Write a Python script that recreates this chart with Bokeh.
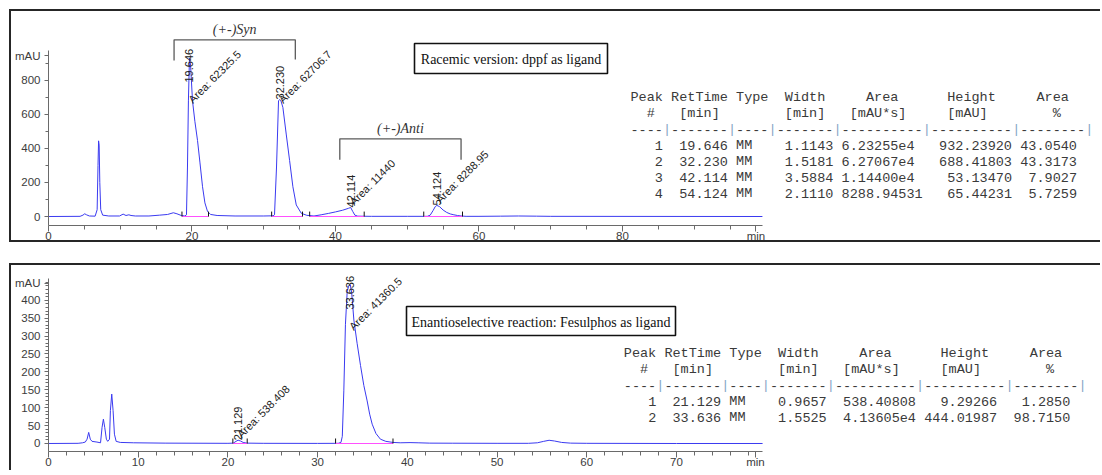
import re
from math import pi

from bokeh.core.properties import value
from bokeh.embed import file_html
from bokeh.layouts import column
from bokeh.models import ColumnDataSource, FixedTicker, Range1d
from bokeh.plotting import figure
from bokeh.resources import INLINE

# ---------------------------------------------------------------------------
# Racemic run: dppf as ligand
# ---------------------------------------------------------------------------
rac_time = [0.0, 4.4, 4.8, 5.05, 5.3, 5.7, 6.5, 6.78, 6.9, 6.98, 7.06, 7.15, 7.28,
            7.55, 8.4, 9.9, 10.4, 10.8, 11.2, 11.5, 12.1, 14.0, 15.5, 16.6, 17.4,
            17.9, 18.5, 19.0, 19.23, 19.37, 19.5, 19.646, 19.8, 20.07, 20.4, 20.77,
            21.1, 21.47, 21.8, 22.17, 22.6, 23.5, 26.0, 30.0, 31.3, 31.5, 31.78,
            32.06, 32.23, 32.4, 32.67, 33.13, 33.6, 34.06, 34.53, 35.23, 36.0, 37.0,
            38.0, 39.0, 40.0, 41.0, 41.8, 42.114, 42.4, 42.7, 43.1, 45.0, 50.0, 52.8,
            53.2, 53.6, 53.9, 54.124, 54.5, 55.0, 55.5, 56.0, 56.5, 57.0, 57.5, 58.2,
            60.0, 63.0, 65.5, 68.0, 70.0, 99.5]
rac_signal = [0, 1, 8, 16, 10, 3, 2, 40, 300, 445, 420, 200, 40,
              8, 3, 3, 14, 6, 10, 6, 3, 3, 8, 12, 22,
              16, 6, 3, 10, 291, 680, 932.2392, 890, 680, 560, 447,
              320, 175, 80, 29, 12, 6, 3, 3, 4, 10, 291,
              680, 688.41803, 680, 641, 485, 330, 175, 68, 19, 7, 3,
              10, 18, 27, 37, 48, 53.1347, 30, 8, 2, 1, 1, 1,
              8, 35, 58, 65.44231, 58, 38, 24, 15, 10, 6, 3, 1,
              1, 2, 3, 2, 1, 0]

rac_peak_no = [1, 2, 3, 4]
rac_rt = [19.646, 32.230, 42.114, 54.124]
rac_type = ["MM", "MM", "MM", "MM"]
rac_width = [1.1143, 1.5181, 3.5884, 2.1110]
rac_area = [62325.5, 62706.7, 11440.0, 8288.94531]
rac_height = [932.23920, 688.41803, 53.13470, 65.44231]
rac_area_pct = [43.0540, 43.3173, 7.9027, 5.7259]
rac_int_start = [18.6, 31.1, 36.4, 52.3]
rac_int_end = [22.3, 35.4, 44.0, 57.7]

# ---------------------------------------------------------------------------
# Enantioselective run: Fesulphos as ligand
# ---------------------------------------------------------------------------
ena_time = [0.0, 3.3, 3.8, 4.1, 4.3, 4.48, 4.66, 4.85, 5.4, 5.8, 5.97, 6.12, 6.27,
            6.45, 6.6, 6.8, 6.9, 7.05, 7.2, 7.35, 7.54, 8.0, 9.5, 13.0, 20.0, 20.6,
            20.9, 21.129, 21.4, 21.7, 22.1, 24.0, 30.0, 32.3, 32.6, 32.75, 32.92,
            33.1, 33.3, 33.5, 33.636, 33.8, 34.04, 34.4, 34.78, 35.15, 35.52, 35.8,
            36.08, 36.5, 37.0, 37.6, 38.4, 39.2, 40.3, 41.2, 42.5, 45.0, 50.0, 53.5,
            54.5, 55.2, 55.8, 56.4, 57.2, 58.2, 60.0, 70.0, 79.6]
ena_signal = [0, 0.5, 2, 4, 12, 31, 12, 6, 4, 2, 45, 68, 45,
              12, 6, 12, 92, 138, 92, 26, 6, 3, 2, 1, 0.5, 1,
              6, 9.29266, 7, 3, 1, 0.5, 0.3, 0.5, 3, 20, 147,
              333, 426, 442, 444.01987, 420, 345, 280, 218, 162, 119, 82,
              54, 28, 12, 6, 3, 2, 2.5, 2, 1, 0.8, 0.5, 0.5,
              2, 6, 9, 7, 3, 1, 0.5, 0, 0]

ena_peak_no = [1, 2]
ena_rt = [21.129, 33.636]
ena_type = ["MM", "MM"]
ena_width = [0.9657, 1.5525]
ena_area = [538.40808, 41360.5]
ena_height = [9.29266, 444.01987]
ena_area_pct = [1.2850, 98.7150]
ena_int_start = [20.55, 32.0]
ena_int_end = [22.15, 38.4]

assert len(rac_time) == len(rac_signal)
assert len(ena_time) == len(ena_signal)

TABLE_HEAD_1 = "Peak RetTime Type  Width     Area      Height     Area"
TABLE_HEAD_2 = "  #   [min]        [min]   [mAU*s]     [mAU]        %"
TABLE_RULE = "----|-------|----|-------|----------|----------|--------|"

SANS = "Liberation Sans"
SERIF = "Liberation Serif"
MONO = "Liberation Mono"
TRACE = "#3a3af0"
INK = "#222222"
FRAME_BORDER = "2px solid #262626"


def area_text(a):
    """Report-style area: exponent notation above 1e4."""
    if a >= 1e4:
        e = len(str(int(a))) - 1
        return f"{a / 10 ** e:.5f}e{e}"
    return f"{a:.5f}"


def style_axes(p, x_major, x_minor, x_over, x_bounds, y_major, y_minor, y_over, y_bounds):
    xa, ya = p.xaxis[0], p.yaxis[0]
    xa.ticker = FixedTicker(ticks=x_major, minor_ticks=x_minor)
    ya.ticker = FixedTicker(ticks=y_major, minor_ticks=y_minor)
    xa.major_label_overrides = x_over
    ya.major_label_overrides = y_over
    xa.bounds = x_bounds
    ya.bounds = y_bounds
    for ax in (xa, ya):
        ax.axis_line_color = "#6a6a6a"
        ax.major_tick_line_color = "#6a6a6a"
        ax.minor_tick_line_color = "#6a6a6a"
        ax.major_tick_in = 0
        ax.minor_tick_in = 0
        ax.major_label_text_font = SANS
        ax.major_label_text_font_size = "11.5px"
        ax.major_label_text_color = "#3c3c3c"
    xa.major_tick_out = 6
    xa.minor_tick_out = 4
    xa.major_label_standoff = -2
    ya.major_tick_out = 4
    ya.minor_tick_out = 3
    ya.major_label_standoff = 4


def draw_trace(p, t, s, int_start, int_end, tick_h):
    p.line(t, s, line_color=TRACE, line_width=1)
    p.segment(x0=int_start, y0=[0] * len(int_start), x1=int_end, y1=[0] * len(int_end),
              line_color="#ff50ff", line_width=1.2)
    bounds = int_start + int_end
    p.segment(x0=bounds, y0=[0] * len(bounds), x1=bounds, y1=[tick_h] * len(bounds),
              line_color="#111111", line_width=1)


def draw_peak_labels(p, rt, height, area, rt_cap, area_cap):
    rt_src = ColumnDataSource(dict(
        x=rt, y=[min(h, rt_cap) for h in height], text=[f"{r:.3f}" for r in rt]))
    p.text(x="x", y="y", text="text", source=rt_src, angle=pi / 2,
           text_align="left", text_baseline="middle",
           text_font=value(SANS), text_font_size=value("11px"), text_color=INK)
    ar_src = ColumnDataSource(dict(
        x=rt, y=[min(h, area_cap) for h in height], text=[f"Area: {a:g}" for a in area]))
    p.text(x="x", y="y", text="text", source=ar_src, angle=pi / 4, x_offset=5,
           text_align="left", text_baseline="bottom",
           text_font=value(SANS), text_font_size=value("11px"), text_color=INK)


def draw_table(p, x0, y0, dy, rows):
    cw = 8.12
    xs, ys, txt, col = [], [], [], []
    lines = [TABLE_HEAD_1, TABLE_HEAD_2, TABLE_RULE] + rows
    for i, line in enumerate(lines):
        pattern = r"-+|\|" if line == TABLE_RULE else r"\S+"
        for m in re.finditer(pattern, line):
            xs.append(x0 + m.start() * cw)
            ys.append(y0 + i * dy)
            txt.append(m.group())
            col.append("#86a6c6" if m.group() == "|" else "#3a3a3a")
    src = ColumnDataSource(dict(x=xs, y=ys, text=txt, color=col))
    p.text(x="x", y="y", text="text", color="color", source=src,
           x_range_name="px", y_range_name="py",
           text_align="left", text_baseline="middle",
           text_font=value(MONO), text_font_size=value("13.5px"))


def draw_caption(p, left, right, top, bottom, caption):
    p.quad(left=[left], right=[right], top=[top], bottom=[bottom],
           x_range_name="px", y_range_name="py",
           fill_color="white", line_color="#111111", line_width=1.6)
    p.text(x=[(left + right) / 2], y=[(top + bottom) / 2 + 1], text=[caption],
           x_range_name="px", y_range_name="py",
           text_align="center", text_baseline="middle",
           text_font=value(SERIF), text_font_size=value("14px"), text_color="#111111")


def draw_bracket(p, x_left, x_right, y_top, y_leg_l, y_leg_r, y_text, label):
    p.line([x_left, x_left, x_right, x_right], [y_leg_l, y_top, y_top, y_leg_r],
           line_color="#5a5a5a", line_width=1.3)
    p.text(x=[(x_left + x_right) / 2], y=[y_text], text=[label],
           text_align="center", text_baseline="middle",
           text_font=value(SERIF), text_font_style="italic",
           text_font_size=value("14px"), text_color="#333333")


# ---------------------------------------------------------------------------
# Upper panel: racemic chromatogram
# ---------------------------------------------------------------------------
p1 = figure(width=1091, height=233,
            x_range=Range1d(0, 146.9), y_range=Range1d(-52.9, 1188),
            min_border_left=37, min_border_right=0, min_border_top=3, min_border_bottom=19,
            output_backend="svg", toolbar_location=None,
            margin=(9, 0, 0, 9),
            styles={"border-top": FRAME_BORDER, "border-left": FRAME_BORDER,
                    "border-bottom": FRAME_BORDER})
p1.extra_x_ranges = {"px": Range1d(48, 1102)}
p1.extra_y_ranges = {"py": Range1d(225, 14)}
p1.outline_line_color = None
p1.grid.visible = False

style_axes(p1,
           x_major=[0, 20, 40, 60, 80, 98.6], x_minor=list(range(5, 100, 5)),
           x_over={98.6: "min"}, x_bounds=(0, 99.5),
           y_major=[0, 200, 400, 600, 800, 945], y_minor=list(range(100, 1000, 100)),
           y_over={945: "mAU"}, y_bounds=(-52.9, 976))

draw_trace(p1, rac_time, rac_signal, rac_int_start, rac_int_end, tick_h=29)
draw_peak_labels(p1, rac_rt, rac_height, rac_area, rt_cap=788, area_cap=653)
draw_bracket(p1, 17.5, 34.4, 1039, 918, 924, 1100, "(+-)Syn")
draw_bracket(p1, 40.6, 57.5, 457, 333.5, 333.5, 516, "(+-)Anti")
draw_caption(p1, 414, 607, 43, 73, "Racemic version: dppf as ligand")

rac_rows = [f"{n:>4} {rt:>7.3f} {ty:<4} {w:>7.4f} {area_text(a):<10}{h:>11.5f} {pc:>7.4f}"
            for n, rt, ty, w, a, h, pc in zip(rac_peak_no, rac_rt, rac_type, rac_width,
                                               rac_area, rac_height, rac_area_pct)]
draw_table(p1, 630, 96.7, 16.1, rac_rows)

# ---------------------------------------------------------------------------
# Lower panel: enantioselective chromatogram
# ---------------------------------------------------------------------------
p2 = figure(width=1091, height=207,
            x_range=Range1d(0, 117.49), y_range=Range1d(-22.35, 491.6),
            min_border_left=37, min_border_right=0, min_border_top=2, min_border_bottom=21,
            output_backend="svg", toolbar_location=None,
            margin=(21, 0, 0, 9),
            styles={"border-top": FRAME_BORDER, "border-left": FRAME_BORDER})
p2.extra_x_ranges = {"px": Range1d(48, 1102)}
p2.extra_y_ranges = {"py": Range1d(454, 270)}
p2.outline_line_color = None
p2.grid.visible = False

style_axes(p2,
           x_major=[0, 10, 20, 30, 40, 50, 60, 70, 78.8], x_minor=list(range(2, 80, 2)),
           x_over={78.8: "min"}, x_bounds=(0, 79.6),
           y_major=[0, 50, 100, 150, 200, 250, 300, 350, 400, 447],
           y_minor=list(range(10, 460, 10)),
           y_over={447: "mAU"}, y_bounds=(-22.35, 462))

draw_trace(p2, ena_time, ena_signal, ena_int_start, ena_int_end, tick_h=14)
draw_peak_labels(p2, ena_rt, ena_height, ena_area, rt_cap=374, area_cap=310)
draw_caption(p2, 406, 675, 309, 338, "Enantioselective reaction: Fesulphos as ligand")

ena_rows = [f"{n:>4} {rt:>7.3f} {ty:<4} {w:>7.4f} {area_text(a):>10}{h:>10.5f} {pc:>8.4f}"
            for n, rt, ty, w, a, h, pc in zip(ena_peak_no, ena_rt, ena_type, ena_width,
                                               ena_area, ena_height, ena_area_pct)]
draw_table(p2, 623.3, 355.7, 16.0, ena_rows)

layout = column(p1, p2, spacing=0)
open("out.html", "w").write(file_html(layout, INLINE))
